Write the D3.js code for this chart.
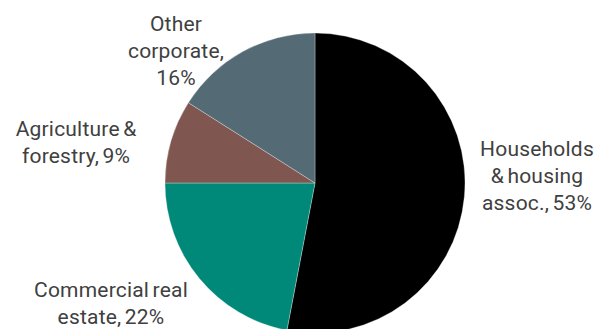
<!DOCTYPE html>
<html>
<head>
<meta charset="utf-8">
<script src="https://cdn.jsdelivr.net/npm/d3@7"></script>
<style>
  body { margin: 0; background: #fff; }
  text { font-family: Roboto, "Noto Sans", sans-serif; fill: #404040; font-size: 21px; word-spacing: -2px; letter-spacing: 0.2px; }
</style>
</head>
<body>
<script>
// slices go clockwise from 12 o'clock
var categories = ["Households & housing assoc.", "Commercial real estate", "Agriculture & forestry", "Other corporate"];
var shares = [53, 22, 9, 16];
var colors = ["#000000", "#008878", "#7f5750", "#546b76"];
var labelLines = [
  ["Households", "& housing", "assoc., 53%"],
  ["Commercial real", "estate, 22%"],
  ["Agriculture &", "forestry, 9%"],
  ["Other", "corporate,", "16%"]
];
// label centres (x, first baseline) in page pixels
var labelPos = [[537, 156], [111, 297], [76, 136], [176, 31]];

var width = 611, height = 329,
    cx = 315, cy = 183, radius = 150;

var svg = d3.select("body").append("svg")
    .attr("width", width)
    .attr("height", height);

var pie = d3.pie().sort(null).value(function(d) { return d; });
var arc = d3.arc().innerRadius(0).outerRadius(radius);

var g = svg.append("g").attr("transform", "translate(" + cx + "," + cy + ")");

g.selectAll("path")
  .data(pie(shares))
  .enter().append("path")
    .attr("d", arc)
    .attr("fill", function(d, i) { return colors[i]; })
    .attr("stroke", "#fff")
    .attr("stroke-width", 0.3);

var labels = svg.selectAll("text.lbl")
  .data(labelLines)
  .enter().append("text")
    .attr("class", "lbl")
    .attr("text-anchor", "middle")
    .attr("transform", function(d, i) { return "translate(" + labelPos[i][0] + "," + labelPos[i][1] + ")"; });

labels.selectAll("tspan")
  .data(function(d) { return d; })
  .enter().append("tspan")
    .attr("x", 0)
    .attr("y", function(d, i) { return i * 27; })
    .text(function(d) { return d; });
</script>
</body>
</html>
